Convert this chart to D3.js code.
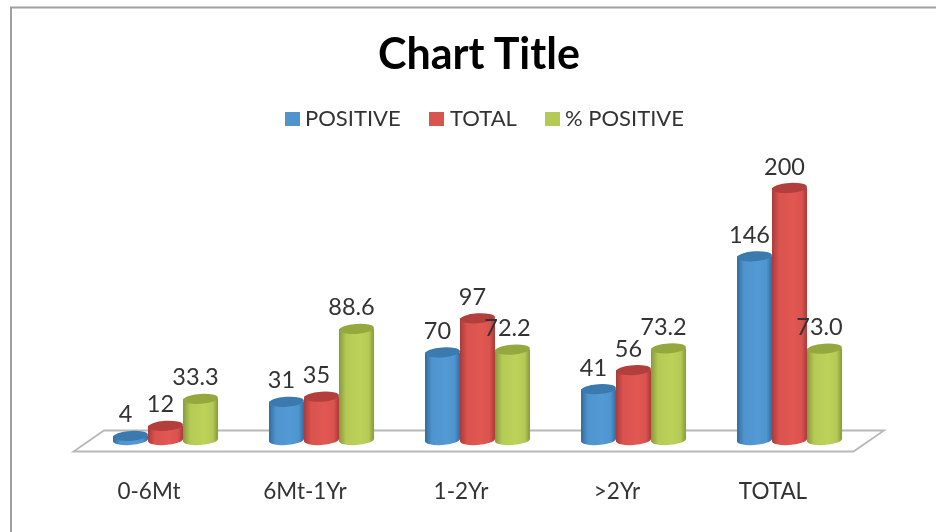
<!DOCTYPE html>
<html><head><meta charset="utf-8">
<style>html,body{margin:0;padding:0;background:#fff}svg{display:block;filter:blur(.55px)}text{font-family:Lato,"Open Sans",sans-serif;}</style>
<script src="https://cdn.jsdelivr.net/npm/d3@7"></script></head>
<body><svg id="c" width="936" height="532"></svg>
<script>
const categories = ["0-6Mt","6Mt-1Yr","1-2Yr",">2Yr","TOTAL"];
const seriesNames = ["POSITIVE","TOTAL","% POSITIVE"];
const positive = [4,31,70,41,146];
const total = [12,35,97,56,200];
const pctPositive = ["33.3","88.6","72.2","73.2","73.0"];
const colors = ["#4f94cd","#d9534f","#b5c955"];
const darks = ["#3a7aae","#b23f3c","#95a83f"];
const edges = ["#2f6da3","#aa3a38","#87993a"];
const series = [positive,total,pctPositive.map(Number)];
const labels = [positive.map(String),total.map(String),pctPositive];

const svg = d3.select("#c");
const defs = svg.append("defs");
colors.forEach((c,i)=>{
  const g = defs.append("linearGradient").attr("id","g"+i);
  [[0,edges[i]],[.2,c],[.6,d3.rgb(c).brighter(.12)],[.85,c],[1,edges[i]]].forEach(s=>g.append("stop").attr("offset",s[0]).attr("stop-color",s[1]));
});
svg.append("path").attr("d","M936 7.5H11V532").attr("fill","none").attr("stroke","#a0a0a0").attr("stroke-width",2);

const x0 = d3.scaleBand().domain(categories).range([87,867]);
const xs = d3.scaleBand().domain([0,1,2]).range([26,131]);
const y = d3.scaleLinear().domain([0,200]).range([441,188]);

svg.append("path").attr("d","M73.5 451.5H853.5L884 430.5H104Z").attr("fill","#fff").attr("stroke","#b8b8b8").attr("stroke-width",1.8);

svg.append("text").attr("x",479).attr("y",69).attr("text-anchor","middle").attr("font-size",43).attr("font-weight",700).attr("fill","#000").text("Chart Title");

const legendX=[285,429,545], legendTX=[305,450,565];
seriesNames.forEach((n,i)=>{
  svg.append("rect").attr("x",legendX[i]).attr("y",112).attr("width",15).attr("height",14).attr("fill",colors[i]);
  svg.append("text").attr("x",legendTX[i]).attr("y",126).attr("font-size",22).attr("fill","#333").text(n);
});

categories.forEach((c,ci)=>{
  series.forEach((s,si)=>{
    const g = svg.append("g");
    const left = x0(c)+xs(si), w = xs.bandwidth(), cx = left+w/2, top = y(s[ci]), base = y(0), r = w/2, ry = 5;
    g.append("path").attr("d",`M${left} ${top}V${base}A${r} ${ry} -4 0 0 ${left+w} ${base-2}V${top}Z`).attr("fill",`url(#g${si})`);
    g.append("ellipse").attr("cx",cx).attr("cy",top).attr("rx",r).attr("ry",ry).attr("fill",darks[si]).attr("transform",`rotate(-4 ${cx} ${top})`);
  });
});
categories.forEach((c,ci)=>{
  series.forEach((s,si)=>{
    const cx = x0(c)+xs(si)+xs.bandwidth()/2;
    svg.append("text").attr("x",cx-5).attr("y",y(s[ci])-13.5).attr("text-anchor","middle").attr("font-size",23.5).attr("fill","#333").text(labels[si][ci]);
  });
  svg.append("text").attr("x",x0(c)+x0.bandwidth()/2-16).attr("y",499).attr("text-anchor","middle").attr("font-size",22.5).attr("fill","#333").text(c);
});
</script></body></html>
